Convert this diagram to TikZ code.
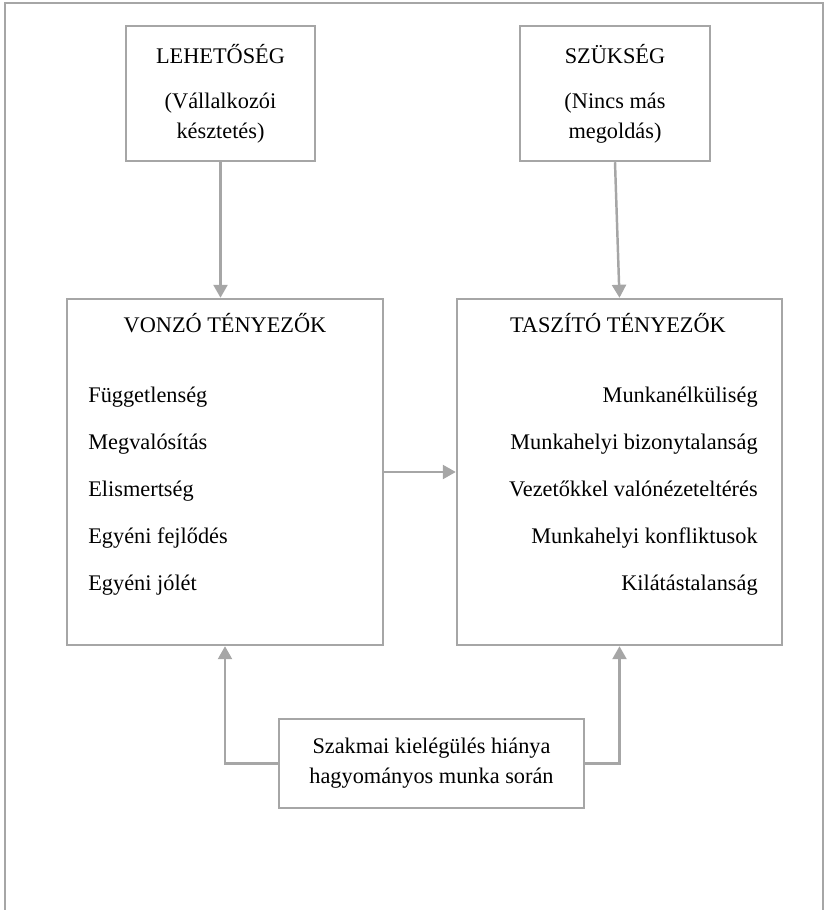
\documentclass[tikz,border=0pt]{standalone}
\usepackage{fontspec}
\setmainfont{Liberation Serif}
\usetikzlibrary{arrows.meta}
\definecolor{linegray}{HTML}{A6A6A6}

\begin{document}
\fontsize{12.7}{17}\selectfont
\begin{tikzpicture}[
    box/.style={draw=linegray, line width=1.4pt, inner sep=0pt, align=center},
    item/.style={inner sep=0pt},
    conn/.style={draw=linegray, line width=1.4pt, -{Triangle[length=0.26cm, width=0.28cm]}},
  ]
    \useasboundingbox (0,0) rectangle (16.58,-18.2);
    \draw[linegray, line width=1.1pt] (0.1,-18.2) -- (0.1,-0.06) -- (16.46,-0.06) -- (16.46,-18.2);

    \node[box, minimum width=3.78cm, minimum height=2.7cm](lehetoseg) at (4.41,-1.87)
      {LEHETŐSÉG\\[0.3cm](Vállalkozói\\késztetés)};
    \node[box, minimum width=3.8cm, minimum height=2.7cm](szukseg) at (12.3,-1.87)
      {SZÜKSÉG\\[0.3cm](Nincs más\\megoldás)};

    \node[box, minimum width=6.32cm, minimum height=6.92cm](vonzo) at (4.5,-9.44){};
    \node[box, minimum width=6.5cm, minimum height=6.92cm](taszito) at (12.39,-9.44){};

    \node[item, anchor=base](vonzo_t) at (4.5,-6.64){VONZÓ TÉNYEZŐK};
    \node[item, anchor=base west](v_1) at (1.76,-8.04){Függetlenség};
    \node[item, anchor=base west](v_2) at (1.76,-8.98){Megvalósítás};
    \node[item, anchor=base west](v_3) at (1.76,-9.92){Elismertség};
    \node[item, anchor=base west](v_4) at (1.76,-10.86){Egyéni fejlődés};
    \node[item, anchor=base west](v_5) at (1.76,-11.8){Egyéni jólét};

    \node[item, anchor=base](taszito_t) at (12.36,-6.64){TASZÍTÓ TÉNYEZŐK};
    \node[item, anchor=base east](t_1) at (15.16,-8.04){Munkanélküliség};
    \node[item, anchor=base east](t_2) at (15.16,-8.98){Munkahelyi bizonytalanság};
    \node[item, anchor=base east](t_3) at (15.16,-9.92){Vezetőkkel valónézeteltérés};
    \node[item, anchor=base east](t_4) at (15.16,-10.86){Munkahelyi konfliktusok};
    \node[item, anchor=base east](t_5) at (15.16,-11.8){Kilátástalanság};

    \node[box, minimum width=6.1cm, minimum height=1.78cm](hiany) at (8.63,-15.27)
      {Szakmai kielégülés hiánya\\hagyományos munka során};

    \draw[conn](lehetoseg.south)--(lehetoseg.south |- vonzo.north);
    \draw[conn](szukseg.south)--(taszito.north);
    \draw[conn](vonzo.east)--(taszito.west);
    \draw[conn](hiany.west)-|(vonzo.south);
    \draw[conn](hiany.east)-|(taszito.south);
  \end{tikzpicture}
\end{document}
